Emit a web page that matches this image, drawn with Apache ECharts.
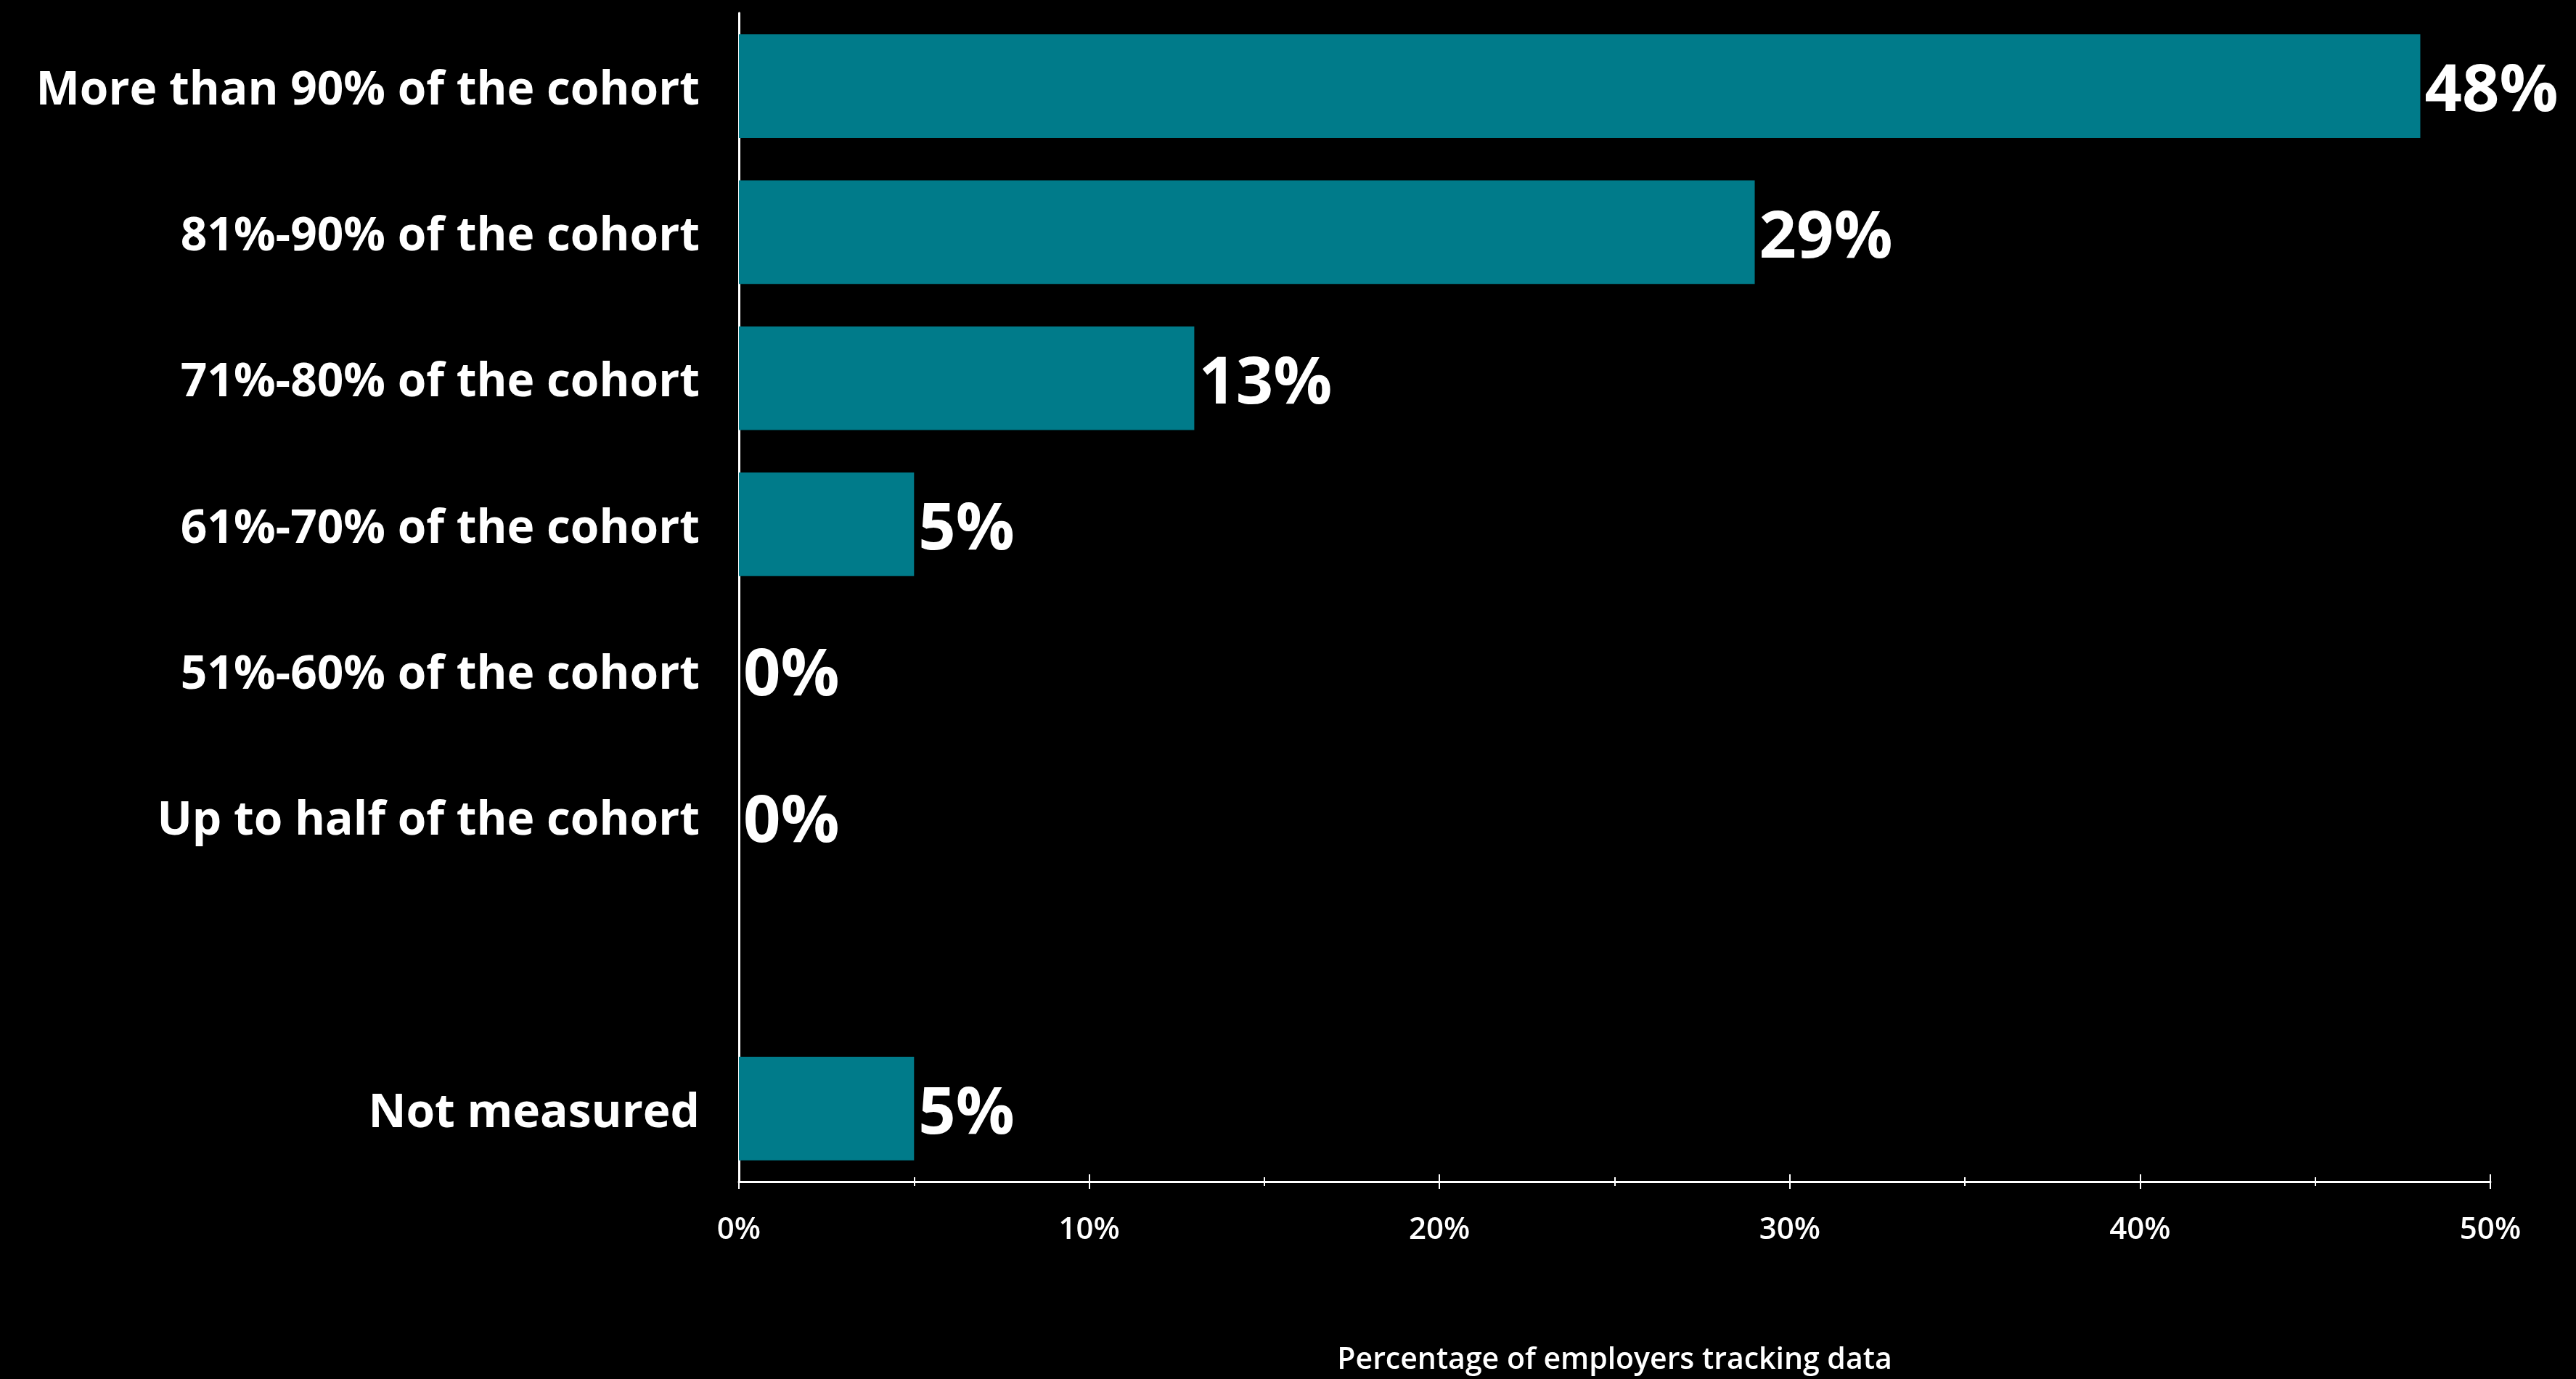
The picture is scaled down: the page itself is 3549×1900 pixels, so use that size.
<!DOCTYPE html>
<html>
<head>
<meta charset="utf-8">
<script src="https://cdn.jsdelivr.net/npm/echarts@6/dist/echarts.min.js"></script>
<style>
html,body{margin:0;padding:0;background:#000;}
#chart{width:3549px;height:1900px;}
</style>
</head>
<body>
<div id="chart"></div>
<script>
const categories = [
  "More than 90% of the cohort",
  "81%-90% of the cohort",
  "71%-80% of the cohort",
  "61%-70% of the cohort",
  "51%-60% of the cohort",
  "Up to half of the cohort",
  "",
  "Not measured"
];
const values = [48, 29, 13, 5, 0, 0, null, 5];
const axisTitle = "Percentage of employers tracking data";
const xMin = 0, xMax = 50, xInterval = 10;

const chart = echarts.init(document.getElementById('chart'), null, {renderer: 'canvas'});
const fontCat = "'Open Sans', sans-serif";
chart.setOption({
  backgroundColor: '#000000',
  animation: false,
  grid: {left: 1018, right: 118, top: 18, bottom: 270, containLabel: false},
  xAxis: [
    {
      type: 'value', min: xMin, max: xMax, interval: xInterval, position: 'bottom',
      axisLine: {show: true, lineStyle: {color: '#ffffff', width: 3}},
      axisTick: {show: true, inside: false, length: 10, lineStyle: {color: '#ffffff', width: 2}},
      minorTick: {show: true, splitNumber: 2, length: 6, lineStyle: {color: '#ffffff', width: 2}},
      splitLine: {show: false},
      axisLabel: {show: true, formatter: '{value}%', color: '#ffffff', fontSize: 42, fontWeight: 600, fontFamily: fontCat, margin: 46},
      name: axisTitle, nameLocation: 'middle', nameGap: 226,
      nameTextStyle: {color: '#ffffff', fontSize: 41, fontWeight: 600, fontFamily: fontCat}
    },
    {
      type: 'value', min: xMin, max: xMax, interval: xInterval, position: 'bottom', gridIndex: 0,
      axisLine: {show: false},
      axisTick: {show: true, inside: true, length: 10, lineStyle: {color: '#ffffff', width: 2}},
      minorTick: {show: true, splitNumber: 2, length: 6, lineStyle: {color: '#ffffff', width: 2}},
      splitLine: {show: false},
      axisLabel: {show: false}
    }
  ],
  yAxis: {
    type: 'category', data: categories, inverse: true,
    axisLine: {show: true, lineStyle: {color: '#ffffff', width: 3}},
    axisTick: {show: false},
    axisLabel: {
      margin: 54,
      formatter: v => '{a|' + v + '}',
      rich: {a: {color: '#ffffff', fontSize: 64, fontWeight: 700, fontFamily: fontCat, padding: [14, 0, 0, 0]}}
    }
  },
  series: [{
    type: 'bar', xAxisIndex: 0, data: values,
    barCategoryGap: '29%',
    itemStyle: {color: '#007B8A'},
    label: {
      show: true, position: 'right', distance: 6, offset: [0, 9],
      formatter: p => (p.value === null || p.value === undefined) ? '' : p.value + '%',
      color: '#ffffff', fontSize: 90, fontWeight: 700, fontFamily: fontCat
    }
  }]
});
</script>
</body>
</html>
